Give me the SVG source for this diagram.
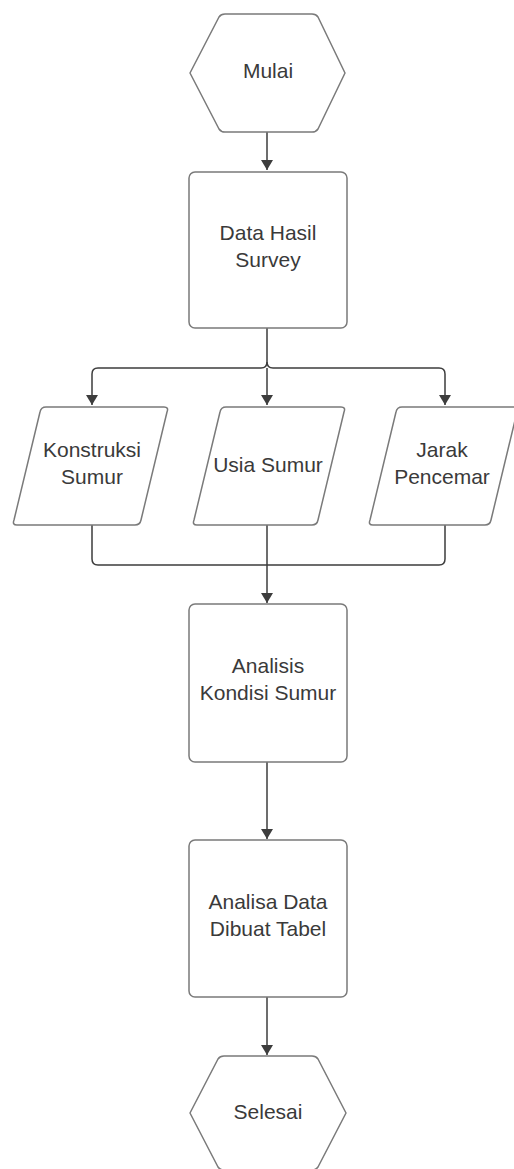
<svg xmlns="http://www.w3.org/2000/svg" width="514" height="1169" viewBox="0 0 514 1169">
<defs>
<style>
.shape{fill:#ffffff;stroke:#7a7a7a;stroke-width:1.5;stroke-linejoin:round}
.lbl{font-family:"Liberation Sans",Arial,sans-serif;font-size:21px;fill:#3a3a3a;text-anchor:middle}
.conn{fill:none;stroke:#3d3d3d;stroke-width:1.5}
</style>
<marker id="arr" viewBox="0 0 10 12" refX="10" refY="6" markerWidth="10" markerHeight="12" markerUnits="userSpaceOnUse" orient="auto">
<path d="M0,0 L10,6 L0,12 Z" fill="#3d3d3d"/>
</marker>
</defs>
<rect width="514" height="1169" fill="#ffffff"/>
<g id="connectors">
<path class="conn" d="M267,132 V170" marker-end="url(#arr)"/>
<path class="conn" d="M267,328 V362 Q267,368 261,368 H98 Q92,368 92,374 V405" marker-end="url(#arr)"/>
<path class="conn" d="M267,362 Q267,368 273,368 H439 Q445,368 445,374 V405" marker-end="url(#arr)"/>
<path class="conn" d="M267,368 V405" marker-end="url(#arr)"/>
<path class="conn" d="M92,525 V559 Q92,565 98,565 H439 Q445,565 445,559 V525"/>
<path class="conn" d="M267,525 V603" marker-end="url(#arr)"/>
<path class="conn" d="M267,762 V839" marker-end="url(#arr)"/>
<path class="conn" d="M267,997 V1055" marker-end="url(#arr)"/>
</g>
<g id="mulai">
<path class="shape" d="M225,14 H312 Q316,14 318,17 L345,73 L318,129 Q316,132 312,132 H225 Q221,132 219,129 L190,73 L219,17 Q221,14 225,14 Z"/>
<text class="lbl" x="268" y="78">Mulai</text>
</g>
<g id="data-hasil-survey">
<rect class="shape" x="189" y="172" width="158" height="156" rx="6"/>
<text class="lbl" x="268" y="240">Data Hasil</text>
<text class="lbl" x="268" y="267">Survey</text>
</g>
<g id="konstruksi-sumur">
<path class="shape" d="M46,407 H164 Q169,407 167,412 L141,520 Q140,525 135,525 H17 Q12,525 14,520 L40,412 Q41,407 46,407 Z"/>
<text class="lbl" x="92" y="457">Konstruksi</text>
<text class="lbl" x="92" y="484">Sumur</text>
</g>
<g id="usia-sumur">
<path class="shape" d="M226,407 H341 Q346,407 344,412 L318,520 Q317,525 312,525 H197 Q192,525 194,520 L220,412 Q221,407 226,407 Z"/>
<text class="lbl" x="268" y="472">Usia Sumur</text>
</g>
<g id="jarak-pencemar">
<path class="shape" d="M402,407 H514 Q519,407 517,412 L491,520 Q490,525 485,525 H373 Q368,525 370,520 L396,412 Q397,407 402,407 Z"/>
<text class="lbl" x="442" y="457">Jarak</text>
<text class="lbl" x="442" y="484">Pencemar</text>
</g>
<g id="analisis-kondisi-sumur">
<rect class="shape" x="189" y="604" width="158" height="158" rx="6"/>
<text class="lbl" x="268" y="673">Analisis</text>
<text class="lbl" x="268" y="700">Kondisi Sumur</text>
</g>
<g id="analisa-data-dibuat-tabel">
<rect class="shape" x="189" y="840" width="158" height="157" rx="6"/>
<text class="lbl" x="268" y="909">Analisa Data</text>
<text class="lbl" x="268" y="936">Dibuat Tabel</text>
</g>
<g id="selesai">
<path class="shape" d="M224,1056 H312 Q316,1056 318,1059 L346,1113 L318,1167 Q316,1170 312,1170 H224 Q220,1170 218,1167 L190,1113 L218,1059 Q220,1056 224,1056 Z"/>
<text class="lbl" x="268" y="1119">Selesai</text>
</g>
</svg>
